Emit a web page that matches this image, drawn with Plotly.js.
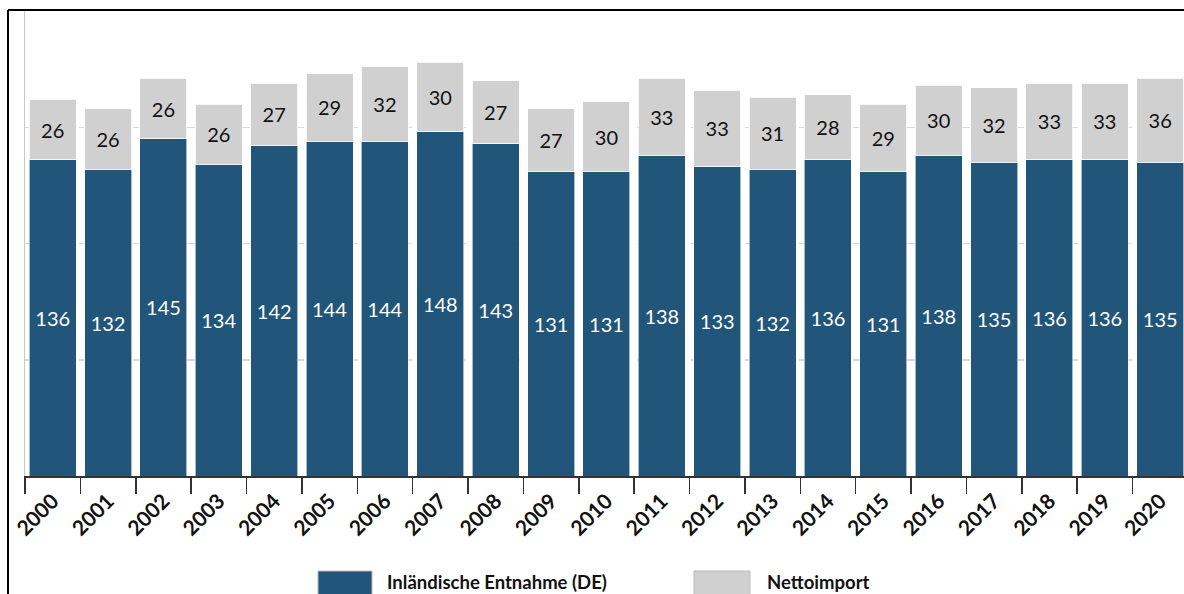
<!DOCTYPE html>
<html>
<head>
<meta charset="utf-8">
<script src="https://cdn.plot.ly/plotly-3.0.1.min.js"></script>
<style>html,body{margin:0;padding:0;background:#fff;overflow:hidden}#chart{width:1184px;height:594px}</style>
</head>
<body>
<div id="chart"></div>
<script>
const years = ["2000","2001","2002","2003","2004","2005","2006","2007","2008","2009","2010","2011","2012","2013","2014","2015","2016","2017","2018","2019","2020"];
const inlandEntnahme = [136,132,145,134,142,144,144,148,143,131,131,138,133,132,136,131,138,135,136,136,135];
const nettoimport = [26,26,26,26,27,29,32,30,27,27,30,33,33,31,28,29,30,32,33,33,36];
const seriesNames = ["Inländische Entnahme (DE)", "Nettoimport"];
const seriesColors = ["#215579", "#d0d0d0"];

const FONT = "Lato, 'Open Sans', 'DejaVu Sans', sans-serif";

const traces = [
  {
    type: "bar", x: years, y: inlandEntnahme, name: seriesNames[0],
    marker: {color: seriesColors[0], line: {color: "rgba(255,255,255,0.6)", width: 1}},
    text: inlandEntnahme.map(String), textposition: "inside", insidetextanchor: "middle",
    textangle: 0, constraintext: "none",
    textfont: {family: FONT, size: 20, color: "#ffffff"}, hoverinfo: "skip"
  },
  {
    type: "bar", x: years, y: nettoimport, name: seriesNames[1],
    marker: {color: seriesColors[1], line: {color: "rgba(255,255,255,0.8)", width: 1}},
    text: nettoimport.map(String), textposition: "inside", insidetextanchor: "middle",
    textangle: 0, constraintext: "none",
    textfont: {family: FONT, size: 20, color: "#111111"}, hoverinfo: "skip"
  }
];

// pixel -> paper helpers (plot area: x 25..1184, y 11..476)
const PL = 25, PR = 1184, PT = 11, PB = 476;
const px = v => (v - PL) / (PR - PL);
const py = v => (PB - v) / (PB - PT);

const legendItems = [
  {x0: 318, x1: 372, tx: 385, color: seriesColors[0], text: seriesNames[0]},
  {x0: 694, x1: 750, tx: 765, color: seriesColors[1], text: seriesNames[1]}
];

const shapes = [
  {type: "line", xref: "paper", yref: "paper", x0: px(8), x1: px(8), y0: py(620), y1: py(10), line: {color: "#000", width: 2}},
  {type: "line", xref: "paper", yref: "paper", x0: px(8), x1: px(1200), y0: py(10), y1: py(10), line: {color: "#000", width: 2}}
];
const annotations = [];
legendItems.forEach(it => {
  shapes.push({type: "rect", xref: "paper", yref: "paper", x0: px(it.x0), x1: px(it.x1), y0: py(571), y1: py(615),
    fillcolor: it.color, line: {color: "#bbbbbb", width: 1}});
  annotations.push({xref: "paper", yref: "paper", x: px(it.tx), y: py(582), xanchor: "left", yanchor: "middle",
    text: "<b>" + it.text + "</b>", showarrow: false, font: {family: FONT, size: 18.5, color: "#111"}});
});

const layout = {
  width: 1184, height: 594,
  margin: {l: PL, r: 1184 - PR, t: PT, b: 594 - PB},
  paper_bgcolor: "#fff", plot_bgcolor: "#fff",
  barmode: "stack", bargap: 0.15,
  showlegend: false,
  font: {family: FONT},
  xaxis: {
    type: "category", range: [-0.5, 20.43],
    tickson: "boundaries", ticks: "outside", ticklen: 16, tickcolor: "#333", tickwidth: 1.5,
    tickangle: -45, ticklabelstandoff: 3,
    tickfont: {family: FONT, size: 21, color: "#111", weight: "bold"},
    showline: true, linecolor: "#333", linewidth: 1.5, showgrid: false, zeroline: false, fixedrange: true
  },
  yaxis: {
    range: [0, 200], dtick: 50, showticklabels: false, ticks: "",
    showgrid: true, gridcolor: "#d9d9d9", gridwidth: 1.5, griddash: "dash",
    showline: true, linecolor: "#c8c8c8", linewidth: 1, zeroline: false, fixedrange: true
  },
  shapes: shapes,
  annotations: annotations
};

Plotly.newPlot("chart", traces, layout, {displayModeBar: false, staticPlot: true});
</script>
</body>
</html>
